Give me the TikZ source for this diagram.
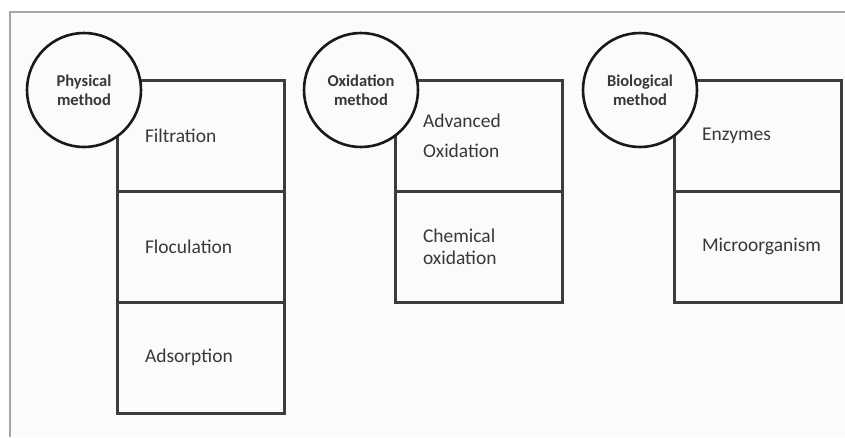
\documentclass[tikz,border=0pt]{standalone}
\usepackage{fontspec}
\setmainfont{Carlito}
\usepackage{tikz}
\usetikzlibrary{positioning}
\definecolor{frameink}{HTML}{A6A6A6}
\definecolor{boxink}{HTML}{3C3C3C}
\definecolor{textink}{HTML}{383838}
\definecolor{paper}{HTML}{FCFBF9}

\begin{document}
\begin{tikzpicture}[x=1pt,y=-1pt,font=\fontsize{19.5}{22}\selectfont,
 item/.style={draw=boxink,line width=3pt,fill=paper,text=textink,align=left,
  text width=111pt,inner xsep=28pt,inner ysep=0pt,minimum height=111pt,outer sep=0pt},
 method/.style={circle,draw=black!90,line width=2.6pt,fill=paper,minimum size=114pt,
  inner sep=0pt,align=center,text=textink,font=\bfseries\fontsize{16.5}{19}\selectfont}]
\useasboundingbox (0,0) rectangle (845,437);
\fill[white] (0,0) rectangle (845,437);
\fill[paper] (10,12) rectangle (845,437);
\draw[frameink,line width=2.8pt] (10,437) -- (10,12) -- (845,12);
% physical
\node[item,anchor=north west] (filt) at (117,80) {Filtration};
\node[item,below=0pt of filt] (floc) {Floculation};
\node[item,below=0pt of floc] (adso) {Adsorption};
\node[method] (phys) at (84,90) {Physical\\method};
% oxidation
\node[item,anchor=north west] (aoxi) at (395,80) {Advanced\\[8pt]Oxidation};
\node[item,below=0pt of aoxi] (coxi) {Chemical\\oxidation};
\node[method] (oxid) at (361,90) {Oxidation\\method};
% biological
\node[item,anchor=north west] (enzy) at (674,80) {Enzymes};
\node[item,below=0pt of enzy] (micr) {Microorganism};
\node[method] (biol) at (640,90) {Biological\\method};
\end{tikzpicture}
\end{document}
